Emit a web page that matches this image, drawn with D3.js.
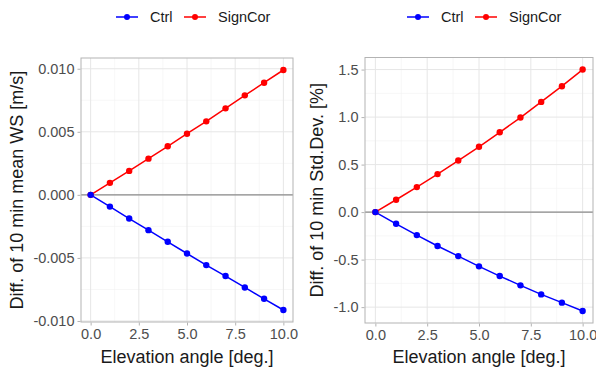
<!DOCTYPE html>
<html>
<head>
<meta charset="utf-8">
<script src="https://cdn.jsdelivr.net/npm/d3@7"></script>
<style>
  body { margin: 0; background: #fff; }
  svg { font-family: "Liberation Sans", Arial, sans-serif; }
</style>
</head>
<body>
<div id="chart"></div>
<script>
// Data
var angles = [0, 1, 2, 3, 4, 5, 6, 7, 8, 9, 10];
var seriesNames = ["Ctrl", "SignCor"];
var seriesColors = ["#0000FF", "#FF0000"];

// left panel: diff. of 10 min mean WS
var wsCtrl = [0, -0.00093, -0.00188, -0.0028, -0.00372, -0.00465, -0.00557, -0.00644, -0.00734, -0.00824, -0.00913];
var wsSignCor = [0, 0.00095, 0.0019, 0.00287, 0.00385, 0.00485, 0.00583, 0.00686, 0.00789, 0.00889, 0.0099];
var wsTicks = [-0.010, -0.005, 0.000, 0.005, 0.010];

// right panel: diff. of 10 min Std.Dev.
var sdCtrl = [0, -0.123, -0.242, -0.357, -0.463, -0.571, -0.673, -0.771, -0.866, -0.953, -1.04];
var sdSignCor = [0, 0.13, 0.263, 0.40, 0.543, 0.687, 0.84, 0.995, 1.16, 1.325, 1.5];
var sdTicks = [-1.0, -0.5, 0.0, 0.5, 1.0, 1.5];

var xTicks = [0, 2.5, 5, 7.5, 10];

var svgWidth = 596;
var svgHeight = 367;

var svg = d3.select("#chart")
  .append("svg")
  .attr("width", svgWidth)
  .attr("height", svgHeight);

function drawPanel(opts) {
  var left = opts.left, right = opts.right, top = opts.top, bottom = opts.bottom;
  var w = right - left, h = bottom - top;
  var g = svg.append("g").attr("transform", `translate(${left}, ${top})`);

  // ggplot style 5% expansion
  var allY = opts.ctrl.concat(opts.signcor);
  var yMin = d3.min(allY), yMax = d3.max(allY);
  var yPad = (yMax - yMin) * 0.05;
  var xScale = d3.scaleLinear().domain([-0.5, 10.5]).range([0, w]);
  var yScale = d3.scaleLinear().domain([yMin - yPad, yMax + yPad]).range([h, 0]);

  // minor grid
  var xMinor = d3.range(1.25, 10, 2.5);
  var yStep = opts.ticks[1] - opts.ticks[0];
  var yMinor = opts.ticks.map(t => t + yStep / 2)
    .concat([opts.ticks[0] - yStep / 2])
    .filter(v => v > yScale.domain()[0] && v < yScale.domain()[1]);

  g.selectAll(".xminor").data(xMinor).enter().append("line")
    .attr("x1", d => xScale(d)).attr("x2", d => xScale(d))
    .attr("y1", 0).attr("y2", h)
    .attr("stroke", "#F2F2F2").attr("stroke-width", 0.6);
  g.selectAll(".yminor").data(yMinor).enter().append("line")
    .attr("x1", 0).attr("x2", w)
    .attr("y1", d => yScale(d)).attr("y2", d => yScale(d))
    .attr("stroke", "#F2F2F2").attr("stroke-width", 0.6);

  // major grid
  g.selectAll(".xmajor").data(xTicks).enter().append("line")
    .attr("x1", d => xScale(d)).attr("x2", d => xScale(d))
    .attr("y1", 0).attr("y2", h)
    .attr("stroke", "#E6E6E6").attr("stroke-width", 1);
  g.selectAll(".ymajor").data(opts.ticks).enter().append("line")
    .attr("x1", 0).attr("x2", w)
    .attr("y1", d => yScale(d)).attr("y2", d => yScale(d))
    .attr("stroke", "#E6E6E6").attr("stroke-width", 1);

  // zero line
  g.append("line")
    .attr("x1", 0).attr("x2", w)
    .attr("y1", yScale(0)).attr("y2", yScale(0))
    .attr("stroke", "#8C8C8C").attr("stroke-width", 1.4);

  // series
  var line = d3.line()
    .x((d, i) => xScale(angles[i]))
    .y(d => yScale(d));
  // SignCor drawn first so Ctrl sits on top at the origin
  [[opts.signcor, seriesColors[1]], [opts.ctrl, seriesColors[0]]].forEach(function(s) {
    g.append("path")
      .datum(s[0])
      .attr("fill", "none")
      .attr("stroke", s[1])
      .attr("stroke-width", 1.5)
      .attr("d", line);
    g.selectAll(null).data(s[0]).enter().append("circle")
      .attr("cx", (d, i) => xScale(angles[i]))
      .attr("cy", d => yScale(d))
      .attr("r", 3.2)
      .attr("fill", s[1]);
  });

  // panel border
  g.append("rect")
    .attr("x", 0).attr("y", 0).attr("width", w).attr("height", h)
    .attr("fill", "none").attr("stroke", "#B3B3B3").attr("stroke-width", 1);

  // axes
  var leftAxis = d3.axisLeft(yScale).tickValues(opts.ticks)
    .tickFormat(d3.format(opts.fmt)).tickSize(3).tickPadding(3);
  var bottomAxis = d3.axisBottom(xScale).tickValues(xTicks)
    .tickFormat(d3.format(".1f")).tickSize(3).tickPadding(3);

  var ya = g.append("g").attr("transform", "translate(-0.5,0)").call(leftAxis);
  var xa = g.append("g").attr("transform", `translate(0, ${h + 0.5})`).call(bottomAxis);
  [ya, xa].forEach(function(a) {
    a.select(".domain").remove();
    a.selectAll(".tick line").attr("stroke", "#B3B3B3");
    a.selectAll(".tick text")
      .attr("fill", "#4D4D4D")
      .style("font-size", "14.5px")
      .style("font-family", "'Liberation Sans', Arial, sans-serif");
  });
  ya.selectAll(".tick text").text(d => d3.format(opts.fmt)(d).replace("−", "-"));

  // axis titles
  svg.append("text")
    .attr("x", left + w / 2)
    .attr("y", 363)
    .attr("text-anchor", "middle")
    .style("font-size", "18px")
    .attr("fill", "#1A1A1A")
    .text("Elevation angle [deg.]");

  svg.append("text")
    .attr("transform", `translate(${opts.titleX}, ${top + h / 2}) rotate(-90)`)
    .attr("text-anchor", "middle")
    .style("font-size", "18px")
    .attr("fill", "#1A1A1A")
    .text(opts.title);

  // legend
  var lg = svg.append("g").attr("transform", `translate(${opts.legendX}, 17)`);
  var offsets = [0, 68];
  var textOffsets = [34, 102];
  seriesNames.forEach(function(name, i) {
    lg.append("line")
      .attr("x1", offsets[i]).attr("x2", offsets[i] + 22)
      .attr("y1", 0).attr("y2", 0)
      .attr("stroke", seriesColors[i]).attr("stroke-width", 1.5);
    lg.append("circle")
      .attr("cx", offsets[i] + 11).attr("cy", 0).attr("r", 3)
      .attr("fill", seriesColors[i]);
    lg.append("text")
      .attr("x", textOffsets[i]).attr("y", 5)
      .style("font-size", "14.5px")
      .attr("fill", "#1A1A1A")
      .text(name);
  });
}

drawPanel({
  left: 81, right: 293, top: 58, bottom: 322,
  ctrl: wsCtrl, signcor: wsSignCor, ticks: wsTicks, fmt: ".3f",
  title: "Diff. of 10 min mean WS [m/s]", titleX: 23, legendX: 116
});

drawPanel({
  left: 365, right: 593, top: 57.5, bottom: 323,
  ctrl: sdCtrl, signcor: sdSignCor, ticks: sdTicks, fmt: ".1f",
  title: "Diff. of 10 min Std.Dev. [%]", titleX: 323, legendX: 407
});
</script>
</body>
</html>
